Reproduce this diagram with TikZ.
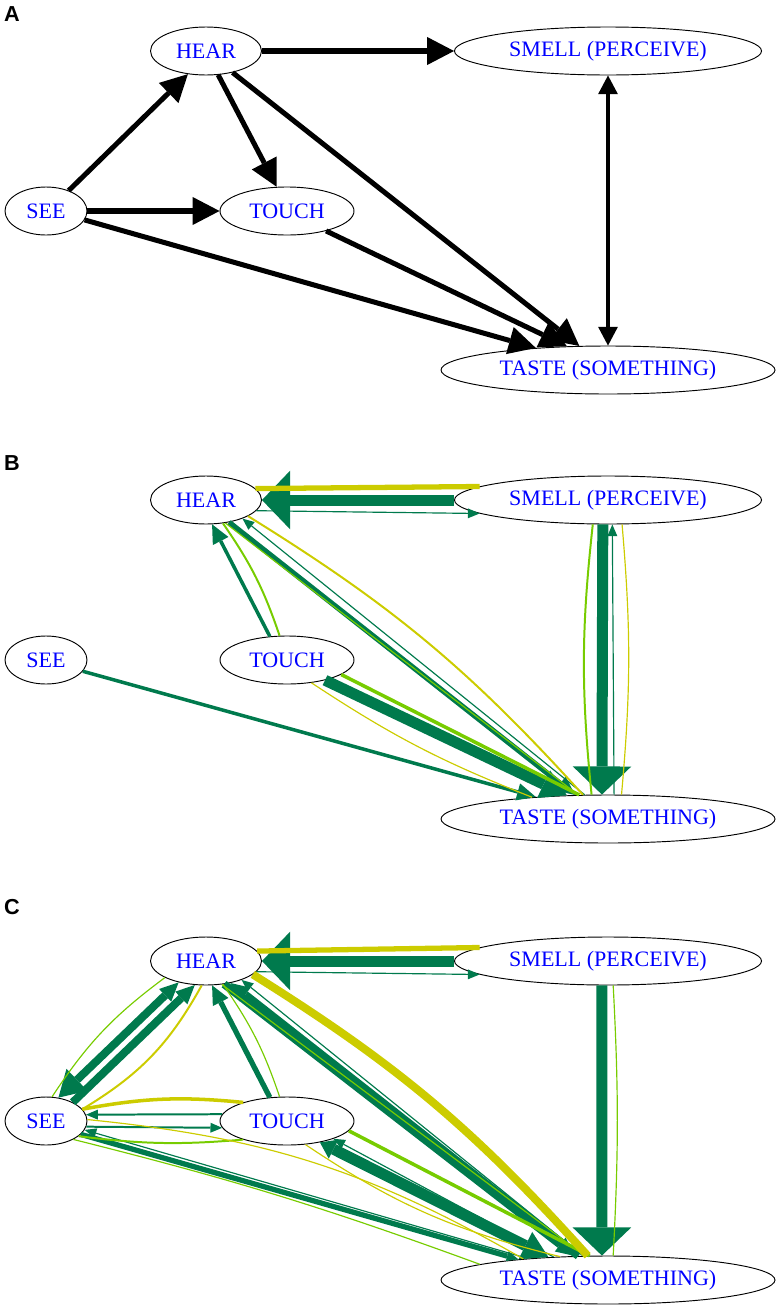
\documentclass[tikz,border=0pt]{standalone}
\usepackage{fontspec}
\newfontfamily\sensefont{Liberation Serif}
\newfontfamily\panelfont{Liberation Sans}
\usetikzlibrary{arrows.meta, shapes.geometric}
\definecolor{dkgreen}{RGB}{0,122,77}
\definecolor{ltgreen}{RGB}{119,204,0}
\definecolor{mustard}{RGB}{204,204,0}
\tikzstyle{sense}=[ellipse, draw, line width=0.8pt, inner sep=0pt, minimum height=1.44cm, text=blue, font=\sensefont\fontsize{18.8}{22}\selectfont]
\tikzstyle{panel}=[inner sep=0pt, font=\panelfont\bfseries\fontsize{18.5}{18.5}\selectfont]
\tikzset{
  hdb/.tip={Triangle[length=23pt, width=24pt, line width=0pt]},
  hdv/.tip={Triangle[length=16pt, width=17pt, line width=0pt]},
  hds/.tip={Triangle[length=10pt, width=8.5pt, line width=0pt]},
  hdm/.tip={Triangle[length=16pt, width=15pt, line width=0pt]},
  hdl/.tip={Triangle[length=22pt, width=26pt, line width=0pt]},
  hdw/.tip={Triangle[length=13pt, width=18pt, line width=0pt]},
  hdx/.tip={Triangle[length=24pt, width=50pt, line width=0pt]},
}
\tikzstyle{blk}=[line width=4.3pt, -hdb]
\tikzstyle{blkthin}=[line width=3.4pt, hdv-hdv]
\tikzstyle{wa}=[line width=1pt]
\tikzstyle{wb}=[line width=1.7pt]
\tikzstyle{wc}=[line width=3pt]
\tikzstyle{wd}=[line width=4.5pt]
\tikzstyle{we}=[line width=6.8pt]
\tikzstyle{wf}=[line width=9.4pt]

\begin{document}
\begin{tikzpicture}[x=0.03cm, y=-0.03cm]
    \useasboundingbox (0,0) rectangle (780,1311);

    \node[panel] (laba) at (12,14) {A};
    \node[sense, minimum width=3.33cm] (heara) at (206,51) {HEAR};
    \node[sense, minimum width=9.21cm] (smella) at (608,51) {SMELL (PERCEIVE)};
    \node[sense, minimum width=2.46cm] (seea) at (46,211) {SEE};
    \node[sense, minimum width=4.02cm] (toucha) at (287,211) {TOUCH};
    \node[sense, minimum width=10.02cm] (tastea) at (608,370) {TASTE (SOMETHING)};

    \draw[blk] (seea.42) -- (heara.232);
    \draw[blk] (seea.east) -- (toucha.west);
    \draw[blk] (seea.-13) -- (tastea.163);
    \draw[blk] (heara.-63) -- (toucha.113);
    \draw[blk] (heara.east) -- (smella.west);
    \draw[blk] (heara.-39) -- (tastea.140);
    \draw[blk] (toucha.-27) -- (tastea.150);
    \draw[blkthin] (smella.south) -- (tastea.north);

    \node[panel] (labb) at (12,463) {B};
    \node[sense, minimum width=3.33cm] (hearb) at (206,500) {HEAR};
    \node[sense, minimum width=9.21cm] (smellb) at (608,500) {SMELL (PERCEIVE)};
    \node[sense, minimum width=2.46cm] (seeb) at (46,660) {SEE};
    \node[sense, minimum width=4.02cm] (touchb) at (287,660) {TOUCH};
    \node[sense, minimum width=10.02cm] (tasteb) at (608,819) {TASTE (SOMETHING)};

    \draw[dkgreen, wf, -hdx] (smellb.west) -- (hearb.east);
    \draw[dkgreen, wa, -hds] (hearb.-12) -- (smellb.186);
    \draw[dkgreen, wf, -hdx] (smellb.-102) -- (tasteb.104);
    \draw[dkgreen, wa, -hds] (tasteb.76) -- (smellb.-80);
    \draw[dkgreen, wc, -hdm] (touchb.126) -- (hearb.-76);
    \draw[dkgreen, wd, -hdm] (hearb.-44) -- (tasteb.144);
    \draw[dkgreen, wa, -hds] (tasteb.134) -- (hearb.-27);
    \draw[dkgreen, wf, -hdl] (touchb.-28) -- (tasteb.150);
    \draw[dkgreen, wc, -hdm] (seeb.-17) -- (tasteb.163);
    \draw[ltgreen, wb] (smellb.-122) to[bend right=6] (tasteb.124);
    \draw[ltgreen, wb] (touchb.107) to[bend right=8] (hearb.-54);
    \draw[ltgreen, wa] (hearb.-50) -- (tasteb.141);
    \draw[ltgreen, wc] (touchb.-15) -- (tasteb.140);
    \draw[mustard, wd] (hearb.13) -- (smellb.174);
    \draw[mustard, wa] (smellb.-60) to[bend left=5] (tasteb.61);
    \draw[mustard, wb] (hearb.-21) to[bend left=8] (tasteb.136);
    \draw[mustard, wa] (touchb.-43) to[bend right=6] (tasteb.164);

    \node[panel] (labc) at (12,907) {C};
    \node[sense, minimum width=3.33cm] (hearc) at (206,961) {HEAR};
    \node[sense, minimum width=9.21cm] (smellc) at (608,961) {SMELL (PERCEIVE)};
    \node[sense, minimum width=2.46cm] (seec) at (46,1121) {SEE};
    \node[sense, minimum width=4.02cm] (touchc) at (287,1121) {TOUCH};
    \node[sense, minimum width=10.02cm] (tastec) at (608,1280) {TASTE (SOMETHING)};

    \draw[dkgreen, wf, -hdx] (smellc.west) -- (hearc.east);
    \draw[dkgreen, wa, -hds] (hearc.-12) -- (smellc.186);
    \draw[dkgreen, wf, -hdx] (smellc.-104) -- (tastec.104);
    \draw[dkgreen, we, hdm-hdl] (hearc.218) -- (seec.62);
    \draw[dkgreen, we, -hdm] (seec.35) -- (hearc.245);
    \draw[dkgreen, wb, -hds] (touchc.174) -- (seec.9);
    \draw[dkgreen, wb, -hds] (seec.-8) -- (touchc.186);
    \draw[dkgreen, wd, -hdm] (touchc.126) -- (hearc.-76);
    \draw[dkgreen, we, -hdm] (hearc.-52) -- (tastec.144);
    \draw[dkgreen, we, -hdm] (tastec.141) -- (hearc.-42);
    \draw[dkgreen, wa, -hds] (tastec.136) -- (hearc.-28);
    \draw[dkgreen, wf, hdw-hdl] (touchc.-33) -- (tastec.159);
    \draw[dkgreen, wa, -hds] (tastec.157) -- (touchc.-21);
    \draw[dkgreen, wd, -hds] (seec.-21) -- (tastec.167);
    \draw[dkgreen, wa, -hds] (tastec.165) -- (seec.-13);
    \draw[ltgreen, wa] (smellc.-78) to[bend left=3] (tastec.78);
    \draw[ltgreen, wa] (hearc.202) to[bend right=10] (seec.76);
    \draw[ltgreen, wb] (seec.-25) to[bend right=6] (touchc.203);
    \draw[ltgreen, wa] (touchc.107) to[bend right=8] (hearc.-54);
    \draw[ltgreen, wa] (hearc.-56) -- (tastec.134);
    \draw[ltgreen, wc] (touchc.-9) -- (tastec.127);
    \draw[ltgreen, wa] (seec.-34) to[bend left=3] (tastec.173);
    \draw[mustard, wd] (hearc.11) -- (smellc.174);
    \draw[mustard, wb] (hearc.260) to[bend left=15] (seec.18);
    \draw[mustard, wc] (seec.18) to[bend left=8] (touchc.157);
    \draw[mustard, we] (hearc.-16) to[bend left=8] (tastec.130);
    \draw[mustard, wa] (touchc.-52) to[bend right=10] (tastec.154);
    \draw[mustard, wa] (seec.2) to[bend left=12] (tastec.166);
\end{tikzpicture}
\end{document}
